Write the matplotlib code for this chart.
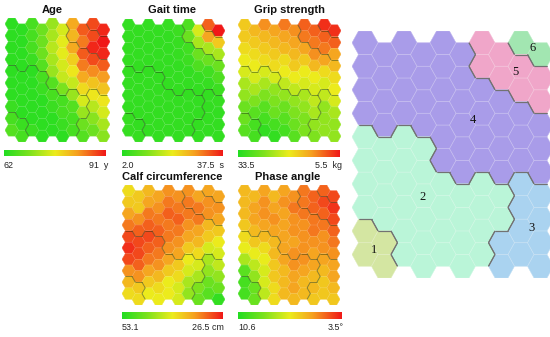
import numpy as np
import matplotlib
matplotlib.use("Agg")
import matplotlib.pyplot as plt
from matplotlib.collections import PolyCollection, LineCollection
from matplotlib.colors import LinearSegmentedColormap

# ---------------- data (rows top->bottom, columns left->right) ----------------
age = [
    [63, 63, 65, 68, 71, 75, 82, 87, 88, 90],
    [63, 63, 65, 68, 72, 76, 81, 85, 88, 91],
    [63, 63, 65, 68, 73, 76, 82, 87, 90, 90],
    [63, 63, 64, 66, 72, 75, 79, 85, 88, 87],
    [63, 63, 63, 65, 71, 74, 77, 82, 84, 83],
    [63, 63, 63, 64, 66, 69, 74, 78, 80, 80],
    [63, 63, 63, 63, 65, 65, 71, 75, 77, 77],
    [64, 63, 63, 63, 64, 65, 66, 71, 73, 75],
    [65, 64, 63, 63, 63, 64, 65, 68, 70, 72],
    [66, 65, 64, 63, 63, 63, 65, 66, 68, 70],
]
gait = [
    [3.8, 3.8, 3.8, 3.8, 4.0, 4.5, 6.3, 18.0, 32.2, 37.5],
    [3.8, 3.8, 3.8, 3.8, 3.8, 4.2, 9.1, 14.4, 26.9, 23.3],
    [3.8, 3.8, 3.8, 3.8, 3.8, 4.0, 5.0, 9.1, 14.4, 14.4],
    [3.8, 3.8, 3.8, 3.8, 3.8, 3.8, 4.5, 6.3, 9.1, 9.1],
    [3.8, 3.8, 3.8, 3.8, 3.8, 3.8, 3.8, 4.0, 5.0, 6.3],
    [3.8, 3.8, 3.8, 3.8, 3.8, 3.8, 3.8, 3.8, 4.0, 4.5],
    [3.8, 3.8, 3.8, 3.8, 3.8, 3.8, 3.8, 3.8, 3.8, 4.0],
    [3.8, 3.8, 3.8, 3.8, 3.8, 3.8, 3.8, 3.8, 3.8, 3.8],
    [4.0, 3.8, 3.8, 3.8, 3.8, 3.8, 3.8, 3.8, 3.8, 3.8],
    [4.0, 4.0, 3.8, 3.8, 3.8, 3.8, 3.8, 3.8, 3.8, 3.8],
]
grip = [
    [16.7, 15.3, 12.5, 13.9, 11.1, 12.5, 9.7, 9.7, 6.9, 6.9],
    [16.7, 16.7, 15.3, 15.3, 13.9, 13.9, 11.1, 11.1, 9.7, 9.7],
    [18.1, 18.1, 16.7, 16.7, 15.3, 15.3, 13.9, 12.5, 11.1, 13.9],
    [19.5, 19.5, 18.1, 18.1, 18.1, 16.7, 16.7, 15.3, 13.9, 15.3],
    [20.9, 20.9, 20.9, 20.9, 19.5, 19.5, 19.5, 19.5, 18.1, 18.1],
    [23.7, 23.7, 23.7, 25.1, 22.3, 22.3, 20.9, 20.9, 20.9, 19.5],
    [25.1, 26.5, 26.5, 26.5, 25.1, 25.1, 23.7, 22.3, 22.3, 20.9],
    [27.9, 29.3, 29.3, 27.9, 27.9, 26.5, 25.1, 23.7, 25.1, 23.7],
    [27.9, 30.7, 30.7, 30.7, 29.3, 27.9, 26.5, 25.1, 25.1, 25.1],
    [29.3, 30.7, 32.1, 32.1, 30.7, 29.3, 26.5, 26.5, 25.1, 25.1],
]
calf = [
    [38.5, 37.1, 35.8, 34.5, 33.2, 33.2, 33.2, 34.5, 34.5, 34.5],
    [37.1, 37.1, 34.5, 33.2, 31.8, 31.8, 31.8, 31.8, 33.2, 33.2],
    [34.5, 33.2, 31.8, 31.8, 30.5, 30.5, 31.8, 31.8, 33.2, 34.5],
    [31.8, 30.5, 30.5, 30.5, 31.8, 31.8, 33.2, 34.5, 35.8, 37.1],
    [29.2, 29.2, 29.2, 30.5, 31.8, 33.2, 34.5, 35.8, 37.1, 39.8],
    [27.8, 29.2, 30.5, 31.8, 33.2, 34.5, 37.1, 38.5, 41.1, 41.1],
    [29.2, 30.5, 31.8, 33.2, 34.5, 37.1, 39.8, 41.1, 43.8, 42.5],
    [33.2, 33.2, 34.5, 35.8, 37.1, 38.5, 41.1, 43.8, 45.1, 45.1],
    [35.8, 37.1, 37.1, 38.5, 39.8, 41.1, 43.8, 46.5, 47.8, 47.8],
    [38.5, 38.5, 39.8, 39.8, 39.8, 41.1, 45.1, 47.8, 49.1, 51.8],
]
phase = [
    [6.0, 6.0, 5.6, 6.0, 5.6, 5.3, 4.9, 4.6, 4.6, 4.2],
    [6.0, 5.6, 5.3, 5.6, 5.3, 4.9, 4.9, 4.6, 4.2, 3.9],
    [6.0, 5.6, 5.3, 5.3, 5.6, 5.3, 4.9, 4.9, 4.6, 4.2],
    [6.3, 6.0, 5.6, 5.6, 5.6, 5.3, 5.3, 4.9, 4.9, 4.6],
    [6.7, 6.3, 6.0, 6.0, 5.6, 5.6, 5.3, 5.3, 5.3, 4.9],
    [7.1, 7.1, 6.7, 6.0, 5.6, 5.3, 5.3, 5.6, 5.3, 5.3],
    [8.1, 7.8, 7.1, 6.3, 5.6, 5.3, 5.3, 5.6, 5.6, 5.6],
    [9.5, 8.5, 7.4, 6.3, 6.0, 5.6, 5.6, 6.0, 6.0, 5.6],
    [9.9, 9.2, 7.4, 6.7, 6.0, 5.6, 6.0, 6.0, 6.3, 6.0],
    [9.9, 9.2, 7.8, 6.7, 6.0, 6.0, 6.0, 6.3, 6.3, 6.3],
]
clusters = [
    [4, 4, 4, 4, 4, 4, 5, 5, 6, 6],
    [4, 4, 4, 4, 4, 4, 5, 5, 5, 5],
    [4, 4, 4, 4, 4, 4, 4, 4, 5, 5],
    [4, 4, 4, 4, 4, 4, 4, 4, 4, 4],
    [2, 2, 2, 2, 4, 4, 4, 4, 4, 4],
    [2, 2, 2, 2, 4, 4, 4, 4, 4, 4],
    [2, 2, 2, 2, 2, 2, 2, 2, 3, 3],
    [2, 2, 2, 2, 2, 2, 2, 2, 3, 3],
    [1, 1, 2, 2, 2, 2, 2, 3, 3, 3],
    [1, 1, 2, 2, 2, 2, 2, 3, 3, 3],
]
cluster_ids = [1, 2, 3, 4, 5, 6]
cluster_colors = ["#D4E6A2", "#BAF5D8", "#AAD3F0", "#A99CE9", "#F0A6C9", "#A2E6B1"]
# label positions as (column, row) on the grid
cluster_label_pos = [(0.46, 8.8), (2.97, 6.56), (8.56, 7.88), (5.54, 3.28), (7.69, 1.24), (8.62, 0.22)]

panels = [
    # title, values, left value, right value, left label, right label
    ("Age", age, 62, 91, "62", "91  y"),
    ("Gait time", gait, 2.0, 37.5, "2.0", "37.5  s"),
    ("Grip strength", grip, 33.5, 5.5, "33.5", "5.5  kg"),
    ("Calf circumference", calf, 53.1, 26.5, "53.1", "26.5 cm"),
    ("Phase angle", phase, 10.6, 3.5, "10.6", "3.5°"),
]
# pixel boxes: map (left, top, w, h), colorbar (left, top, w, h), title centre x, title y
map_boxes = [(5, 18, 105, 124), (122, 19, 103, 123), (238, 19, 103, 123),
             (122, 185, 103, 120), (238, 185, 102, 120)]
bar_boxes = [(4, 150, 102, 6.5), (122, 150, 100, 6.5), (238, 150.5, 102, 6.5),
             (122, 312, 100, 6.5), (238, 312, 104, 6.5)]
title_pos = [(52, 10), (172, 10), (289, 10), (172, 177), (288, 177)]

# ---------------- helpers ----------------
W, H = 550, 337
S3 = np.sqrt(3)
NR, NC = 10, 10
ANG = np.deg2rad(np.arange(0, 360, 60))

cmap = LinearSegmentedColormap.from_list(
    "gyr", [(0.0, "#22dd22"), (0.25, "#7de21e"), (0.5, "#ecec1c"),
            (0.72, "#f6a020"), (1.0, "#f01818")])


def centre(c, r):
    return 1.5 * c, -(S3 * r + (c % 2) * S3 / 2)


def hex_polys():
    polys, keys = [], []
    for r in range(NR):
        for c in range(NC):
            x, y = centre(c, r)
            polys.append(np.c_[x + np.cos(ANG), y + np.sin(ANG)])
            keys.append((r, c))
    return polys, keys


def boundary_segments(labels):
    lookup = {}
    for r in range(NR):
        for c in range(NC):
            x, y = centre(c, r)
            lookup[(round(x, 2), round(y, 2))] = labels[r][c]
    segs = []
    for r in range(NR):
        for c in range(NC):
            x, y = centre(c, r)
            for k in range(6):
                phi = np.deg2rad(30 + 60 * k)
                nk = (round(x + S3 * np.cos(phi), 2), round(y + S3 * np.sin(phi), 2))
                if nk in lookup and lookup[nk] != labels[r][c]:
                    a0, a1 = ANG[k], ANG[(k + 1) % 6]
                    segs.append([(x + np.cos(a0), y + np.sin(a0)),
                                 (x + np.cos(a1), y + np.sin(a1))])
    return segs


def px_axes(fig, box):
    l, t, w, h = box
    return fig.add_axes([l / W, 1 - (t + h) / H, w / W, h / H])


def setup_hex_ax(ax):
    ax.set_xlim(-1, 1.5 * (NC - 1) + 1)
    ax.set_ylim(-S3 * NR, S3 / 2)
    ax.axis("off")


plt.rcParams["font.family"] = ["Liberation Sans", "DejaVu Sans"]
fig = plt.figure(figsize=(W / 100, H / 100), dpi=100)
fig.patch.set_facecolor("white")

polys, keys = hex_polys()
bsegs = boundary_segments(clusters)

for (title, vals, vl, vr, ll, rl), mb, bb, tp in zip(panels, map_boxes, bar_boxes, title_pos):
    ax = px_axes(fig, mb)
    setup_hex_ax(ax)
    cols = [cmap(np.clip((vals[r][c] - vl) / (vr - vl), 0, 1)) for (r, c) in keys]
    ax.add_collection(PolyCollection(polys, facecolors=cols, edgecolors=cols,
                                     linewidths=0.3))
    ax.add_collection(PolyCollection(polys, facecolors="none",
                                     edgecolors=(1, 1, 1, 0.12), linewidths=0.4))
    ax.add_collection(LineCollection(bsegs, colors=(0.1, 0.2, 0.05, 0.3), linewidths=0.6))
    # colour bar
    cax = px_axes(fig, bb)
    cax.imshow(np.linspace(0, 1, 256)[None, :], aspect="auto", cmap=cmap,
               extent=(0, 1, 0, 1))
    cax.axis("off")
    l, t, w, h = bb
    ly = t + h + 9
    fig.text(l / W, 1 - ly / H, ll, ha="left", va="center", fontsize=6.4, color="#222222")
    fig.text((l + w + 2) / W, 1 - ly / H, rl, ha="right", va="center", fontsize=6.4,
             color="#222222")
    fig.text(tp[0] / W, 1 - tp[1] / H, title, ha="center", va="center", fontsize=8,
             fontweight="bold", color="#111111")

# big cluster map
bax = px_axes(fig, (352, 31, 201.5, 247))
setup_hex_ax(bax)
ccols = [cluster_colors[cluster_ids.index(clusters[r][c])] for (r, c) in keys]
bax.add_collection(PolyCollection(polys, facecolors=ccols, edgecolors=ccols,
                                  linewidths=0.3))
bax.add_collection(PolyCollection(polys, facecolors="none",
                                  edgecolors=(1, 1, 1, 0.16), linewidths=0.6))
bax.add_collection(LineCollection(bsegs, colors="#727272", linewidths=0.8))
for cid, (gc, gr) in zip(cluster_ids, cluster_label_pos):
    x, y = 1.5 * gc, -S3 * gr
    bax.text(x, y, str(cid), ha="center", va="center", fontsize=9,
             family=["Liberation Serif", "DejaVu Serif"], color="#111111")

fig.savefig("out.png", dpi=100, facecolor="white")
